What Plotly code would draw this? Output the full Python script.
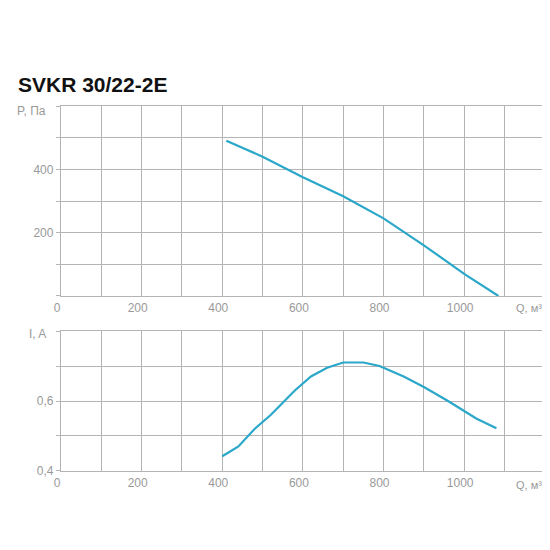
import plotly.graph_objects as go

q_p = [410, 500, 600, 700, 800, 900, 1000, 1085]
p = [490, 440, 375, 315, 245, 160, 70, 0]
q_i = [400, 440, 480, 520, 580, 620, 660, 700, 750, 790, 850, 900, 960, 1030, 1080]
i_a = [0.442, 0.47, 0.52, 0.56, 0.63, 0.67, 0.695, 0.71, 0.71, 0.70, 0.67, 0.64, 0.60, 0.55, 0.522]
x_ticks = list(range(0, 1201, 100))
x_labels = ["0", "", "200", "", "400", "", "600", "", "800", "", "1000", "", ""]
p_ticks = [0, 100, 200, 300, 400, 500, 600]
p_labels = ["", "", "200", "", "400", "", ""]
i_ticks = [0.4, 0.5, 0.6, 0.7, 0.8]
i_labels = ["0,4", "", "0,6", "", ""]

col = "#2aa7c9"
grid = "#b4b4b4"
tf = dict(family="Liberation Sans", size=12, color="#999999")
fig = go.Figure()
fig.add_trace(go.Scatter(x=q_p, y=p, mode="lines", line=dict(color=col, width=2.2), xaxis="x", yaxis="y"))
fig.add_trace(go.Scatter(x=q_i, y=i_a, mode="lines", line=dict(color=col, width=2.2), xaxis="x2", yaxis="y2"))

xd = [0.0964, 0.976]
ax = dict(range=[0, 1200], tickmode="array", tickvals=x_ticks, ticktext=x_labels, showgrid=True,
          gridcolor=grid, gridwidth=1.3, showline=True, linecolor=grid, linewidth=1.3, mirror=True,
          zeroline=False, tickfont=tf, ticks="", ticklabelshift=-4, automargin=False)
yax = dict(showgrid=True, gridcolor=grid, gridwidth=1.3, showline=True, linecolor=grid, linewidth=1.3,
           mirror=True, zeroline=False, tickfont=tf, ticks="outside", ticklen=4, tickcolor=grid,
           automargin=False, tickmode="array")
fig.update_layout(
    width=550, height=550, margin=dict(l=0, r=0, t=0, b=0, autoexpand=False), showlegend=False,
    plot_bgcolor="white", paper_bgcolor="white",
    xaxis=dict(domain=xd, anchor="y", **ax),
    xaxis2=dict(domain=xd, anchor="y2", **ax),
    yaxis=dict(domain=[0.4764, 0.8218], range=[0, 600], tickvals=p_ticks, ticktext=p_labels, **yax),
    yaxis2=dict(domain=[0.1582, 0.4127], range=[0.4, 0.8], tickvals=i_ticks, ticktext=i_labels, **yax),
    annotations=[
        dict(text="<b>SVKR 30/22-2E</b>", x=8 / 550, y=1 - 76 / 550, xref="paper", yref="paper",
             xanchor="left", yanchor="middle", showarrow=False,
             font=dict(family="Liberation Sans", size=21, color="#111111")),
        dict(text="P, Па", x=40 / 550, y=1 - 103 / 550, xref="paper", yref="paper", xanchor="right",
             yanchor="middle", showarrow=False, font=tf),
        dict(text="I, A", x=40 / 550, y=1 - 326 / 550, xref="paper", yref="paper", xanchor="right",
             yanchor="middle", showarrow=False, font=tf),
        dict(text="Q, м³/ч", x=545 / 550, y=1 - 300 / 550, xref="paper", yref="paper", xanchor="right",
             yanchor="middle", showarrow=False, font=dict(family="Liberation Sans", size=11, color="#999999")),
        dict(text="Q, м³/ч", x=545 / 550, y=1 - 477 / 550, xref="paper", yref="paper", xanchor="right",
             yanchor="middle", showarrow=False, font=dict(family="Liberation Sans", size=11, color="#999999")),
    ],
)
fig.write_html("out.html")
